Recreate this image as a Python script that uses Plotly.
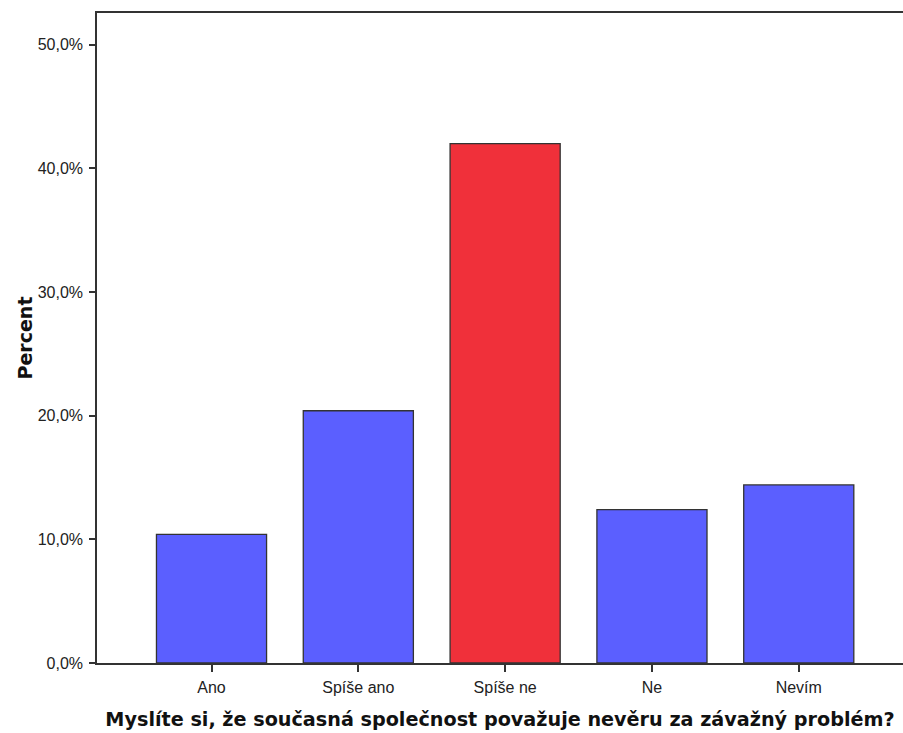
import plotly.graph_objects as go

categories = ["Ano", "Spíše ano", "Spíše ne", "Ne", "Nevím"]
percent = [10.4, 20.4, 42.0, 12.4, 14.4]
bar_colors = ["#5B5FFF", "#5B5FFF", "#F0303A", "#5B5FFF", "#5B5FFF"]
y_tickvals = [0, 10, 20, 30, 40, 50]
y_ticktext = ["0,0%", "10,0%", "20,0%", "30,0%", "40,0%", "50,0%"]
x_title = "Myslíte si, že současná společnost považuje nevěru za závažný problém?"

fig = go.Figure(go.Bar(
    x=categories, y=percent,
    marker=dict(color=bar_colors, line=dict(color="#333333", width=1.3)),
    width=0.75,
))

fig.update_layout(
    width=903, height=733,
    margin=dict(l=97, r=0, t=13, b=70),
    plot_bgcolor="white", paper_bgcolor="white",
    font=dict(family="Liberation Sans, Arial, sans-serif", size=16, color="#222"),
    showlegend=False,
)
fig.update_xaxes(
    range=[-0.78, 4.71],
    showline=True, linecolor="#333", linewidth=1.5, mirror=True,
    ticks="outside", ticklen=7, tickcolor="#333", tickwidth=1.5,
    showgrid=False, tickfont=dict(size=16), ticklabelstandoff=2,
    title=dict(text="<b>" + x_title + "</b>",
               font=dict(size=19.2, family="DejaVu Sans, sans-serif", color="#111"), standoff=18),
    automargin=False,
)
fig.update_yaxes(
    range=[0, 52.57],
    tickvals=y_tickvals, ticktext=y_ticktext,
    showline=True, linecolor="#333", linewidth=1.5,
    ticks="outside", ticklen=6, tickcolor="#333", tickwidth=1.5,
    showgrid=False, zeroline=False, tickfont=dict(size=16), ticklabelstandoff=3,
    title=dict(text="<b>Percent</b>", font=dict(size=19, family="DejaVu Sans, sans-serif", color="#111"), standoff=0),
    automargin=False,
)

fig.write_html(
    "out.html",
    config={"displayModeBar": False},
    post_script="document.body.style.margin='0';document.body.style.overflow='hidden';document.documentElement.style.overflow='hidden';",
)
